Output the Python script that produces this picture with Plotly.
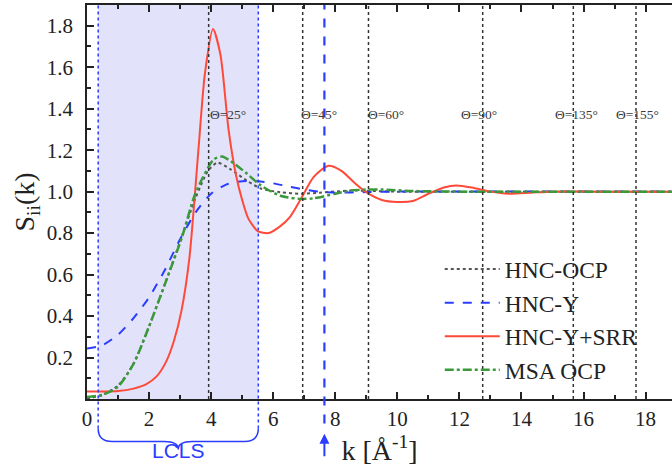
import plotly.graph_objects as go

# ---------------- data ----------------
k_srr = [0, 0.5, 1.0, 1.5, 1.9, 2.25, 2.55, 2.8, 3.05, 3.3, 3.6, 3.8, 4.06, 4.3, 4.56, 4.8, 5.0,
         5.2, 5.5, 5.85, 6.2, 6.55, 6.93, 7.3, 7.78, 8.2, 8.6, 8.97, 9.5, 10.0, 10.5, 11.0,
         11.5, 11.9, 12.4, 13.0, 13.6, 14.3, 15.0, 16.5, 19.0]
s_srr = [0.036, 0.036, 0.038, 0.05, 0.07, 0.11, 0.18, 0.28, 0.43, 0.68, 1.22, 1.57, 1.784, 1.66,
         1.30, 1.08, 0.96, 0.87, 0.81, 0.80, 0.83, 0.88, 0.975, 1.07, 1.125, 1.10, 1.045, 1.0,
         0.96, 0.95, 0.955, 0.99, 1.02, 1.03, 1.02, 1.0, 0.99, 0.995, 1.0, 1.0, 1.0]

k_hncy = [0, 0.5, 1.0, 1.5, 2.0, 2.5, 3.0, 3.5, 4.0, 4.5, 5.0, 5.5, 6.0, 6.5, 7.0, 7.5, 8.0,
          9.0, 10.0, 19.0]
s_hncy = [0.243, 0.26, 0.31, 0.39, 0.49, 0.62, 0.77, 0.90, 0.99, 1.035, 1.05, 1.05, 1.04,
          1.025, 1.01, 1.0, 0.995, 0.998, 1.0, 1.0]

k_ocp = [0, 0.5, 1.0, 1.5, 2.0, 2.5, 3.0, 3.5, 3.9, 4.2, 4.6, 5.15, 5.6, 6.23, 6.9, 7.5, 8.5,
         10.0, 19.0]
s_ocp = [0.0, 0.02, 0.065, 0.17, 0.35, 0.55, 0.76, 0.97, 1.10, 1.14, 1.11, 1.053, 1.015,
         0.997, 0.99, 0.995, 1.005, 1.0, 1.0]

k_msa = [0, 0.5, 1.0, 1.5, 2.0, 2.5, 3.06, 3.49, 4.08, 4.35, 4.7, 5.15, 5.6, 6.23, 6.87, 7.3,
         8.0, 8.5, 9.0, 9.5, 10.5, 12.0, 19.0]
s_msa = [0.01, 0.02, 0.06, 0.17, 0.35, 0.55, 0.78, 0.99, 1.155, 1.169, 1.14, 1.087, 1.03,
         0.98, 0.965, 0.968, 0.99, 1.005, 1.01, 1.01, 1.003, 1.0, 1.0]

theta_k = [3.92, 6.95, 9.07, 12.75, 15.67, 17.69]
theta_label_k = [3.89, 6.82, 9.0, 12.0, 15.0, 16.98]
theta_labels = ["Θ=25°", "Θ=45°", "Θ=60°", "Θ=90°", "Θ=135°", "Θ=155°"]
lcls_range = [0.36, 5.52]
k_arrow = 7.65

x_ticks = [0, 2, 4, 6, 8, 10, 12, 14, 16, 18]
y_ticks = [0.2, 0.4, 0.6, 0.8, 1.0, 1.2, 1.4, 1.6, 1.8]

# ---------------- styling ----------------
SERIF = "Liberation Serif"
BLUE = "#2a3cff"
RED = "#ff4a3a"
GREEN = "#3a9a3a"
GRAY = "#555555"
SMOOTH = 0.7

fig = go.Figure()

fig.add_trace(go.Scatter(x=k_ocp, y=s_ocp, name="HNC-OCP", mode="lines",
                         line=dict(color=GRAY, width=2, dash="dot", shape="spline", smoothing=SMOOTH)))
fig.add_trace(go.Scatter(x=k_hncy, y=s_hncy, name="HNC-Y", mode="lines",
                         line=dict(color=BLUE, width=2, dash="dash", shape="spline", smoothing=SMOOTH)))
fig.add_trace(go.Scatter(x=k_srr, y=s_srr, name="HNC-Y+SRR", mode="lines",
                         line=dict(color=RED, width=2, shape="spline", smoothing=SMOOTH)))
fig.add_trace(go.Scatter(x=k_msa, y=s_msa, name="MSA OCP", mode="lines",
                         line=dict(color=GREEN, width=2.5, dash="dashdot", shape="spline", smoothing=SMOOTH)))

shapes = []
# LCLS shaded band
shapes.append(dict(type="rect", xref="x", yref="paper", x0=lcls_range[0], x1=lcls_range[1],
                   y0=0, y1=1, fillcolor="rgb(226,226,250)", line=dict(width=0), layer="below"))
# blue dotted band edges (extend below the axis to the brace)
for xv in lcls_range:
    shapes.append(dict(type="line", xref="x", yref="paper", x0=xv, x1=xv, y0=-0.075, y1=1,
                       line=dict(color=BLUE, width=1.5, dash="dot")))
# theta dotted lines
for xv in theta_k:
    shapes.append(dict(type="line", xref="x", yref="paper", x0=xv, x1=xv, y0=0, y1=1,
                       line=dict(color="#333333", width=1.5, dash="dot")))
# blue dashed marker line
shapes.append(dict(type="line", xref="x", yref="paper", x0=k_arrow, x1=k_arrow, y0=-0.062, y1=1,
                   line=dict(color=BLUE, width=2.2, dash="dash")))
# brace under the LCLS band
a, b = lcls_range
m = (a + b) / 2
d = 0.45
yt, yh, yp = -0.075, -0.108, -0.128
brace = (f"M{a},{yt} Q{a},{yh} {a + d},{yh} L{m - d},{yh} Q{m},{yh} {m},{yp} "
         f"Q{m},{yh} {m + d},{yh} L{b - d},{yh} Q{b},{yh} {b},{yt}")
shapes.append(dict(type="path", xref="x", yref="paper", path=brace,
                   line=dict(color=BLUE, width=1.5)))

annotations = []
for xl, lab in zip(theta_label_k, theta_labels):
    annotations.append(dict(x=xl, y=1.372, xref="x", yref="y", text=lab, showarrow=False,
                            xanchor="left", yanchor="middle",
                            font=dict(family=SERIF, size=13.5, color="#3a3a3a")))
annotations.append(dict(x=(lcls_range[0] + lcls_range[1]) / 2, y=-0.165, xref="x", yref="paper",
                        text="LCLS", showarrow=False,
                        font=dict(family="Liberation Sans", size=21, color=BLUE)))
annotations.append(dict(x=k_arrow, y=-0.088, xref="x", yref="paper", text="", showarrow=True,
                        ax=0, ay=24, arrowhead=2, arrowsize=1, arrowwidth=2, arrowcolor=BLUE))

axis_common = dict(showline=True, linecolor="#222222", linewidth=1.5, ticks="inside",
                   tickcolor="#222222", tickwidth=1.5, ticklen=7, showgrid=False,
                   zeroline=False, tickfont=dict(family=SERIF, size=21, color="#222222"))

fig.update_layout(
    width=672, height=472,
    margin=dict(l=87, r=0, t=5, b=73),
    paper_bgcolor="white", plot_bgcolor="white",
    shapes=shapes, annotations=annotations,
    showlegend=True,
    legend=dict(x=0.603, y=0.385, xanchor="left", yanchor="top", bgcolor="rgba(0,0,0,0)",
                font=dict(family=SERIF, size=23.5, color="#222222"), itemwidth=55,
                tracegroupgap=0),
    xaxis=dict(range=[0, 18.85], tickvals=x_ticks, mirror="ticks",
               minor=dict(dtick=1, ticks="inside", ticklen=4, tickcolor="#222222", tickwidth=1.5),
               title=dict(text="k [Å<sup>-1</sup>]", font=dict(family=SERIF, size=28, color="#222222"),
                          standoff=10),
               **axis_common),
    yaxis=dict(range=[0, 1.9], tickvals=y_ticks, tickformat=".1f", mirror=False,
               minor=dict(dtick=0.1, ticks="inside", ticklen=4, tickcolor="#222222", tickwidth=1.5),
               title=dict(text="S<sub>ii</sub>(k)", font=dict(family=SERIF, size=28, color="#222222"),
                          standoff=4),
               ticklabelstandoff=8,
               **axis_common),
)

fig.write_html("out.html")
